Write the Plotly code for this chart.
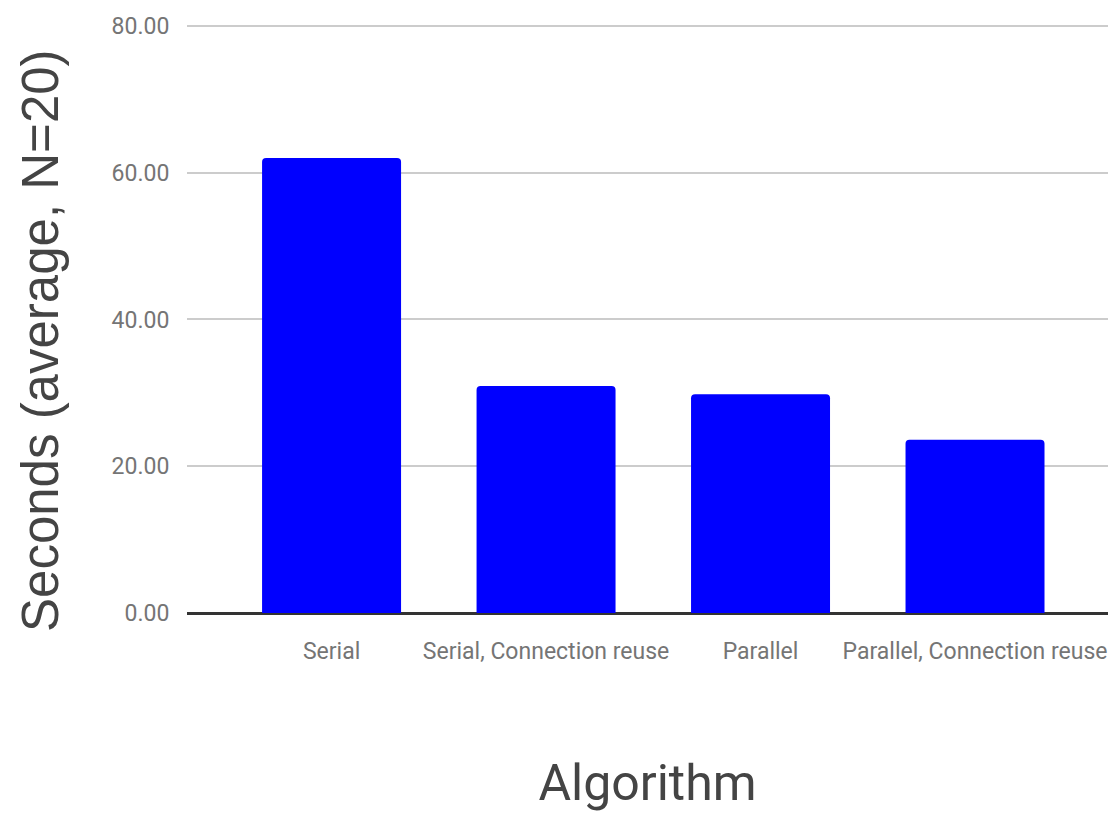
import plotly.graph_objects as go

# Average run time per algorithm (seconds, N=20)
algorithms = ["Serial", "Serial, Connection reuse", "Parallel", "Parallel, Connection reuse"]
seconds = [62.0, 30.95, 29.8, 23.6]

y_ticks = [0, 20, 40, 60, 80]
y_tick_labels = ["0.00", "20.00", "40.00", "60.00", "80.00"]

tick_font = dict(family="Roboto, sans-serif", size=23, color="#757575")

fig = go.Figure(
    go.Bar(
        x=algorithms,
        y=seconds,
        width=0.648,
        marker=dict(color="#0000ff", line=dict(width=0), cornerradius=4),
    )
)

fig.update_layout(
    width=1108,
    height=813,
    margin=dict(l=187, r=0, t=19, b=200, autoexpand=False),
    plot_bgcolor="white",
    paper_bgcolor="white",
    showlegend=False,
)

fig.update_xaxes(
    range=[-0.674, 3.62],
    automargin=False,
    tickfont=tick_font,
    ticks="outside",
    ticklen=17,
    tickcolor="rgba(0,0,0,0)",
    showgrid=False,
    showline=False,
    title=dict(
        text="Algorithm",
        font=dict(family="Roboto, sans-serif", size=50, color="#444444"),
        standoff=101,
    ),
)

fig.update_yaxes(
    range=[0, 80.95],
    automargin=False,
    tickvals=y_ticks,
    ticktext=y_tick_labels,
    tickfont=tick_font,
    ticks="outside",
    ticklen=12,
    tickcolor="rgba(0,0,0,0)",
    showgrid=True,
    gridcolor="#cccccc",
    gridwidth=2,
    zeroline=True,
    zerolinecolor="#333333",
    zerolinewidth=3,
    showline=False,
)

fig.add_annotation(
    text="Seconds (average, N=20)",
    textangle=-90,
    xref="paper",
    yref="paper",
    x=(40 - 187) / 921,
    y=(813 - 200 - 341) / 594,
    xanchor="center",
    yanchor="middle",
    showarrow=False,
    font=dict(family="Liberation Sans, Arial, sans-serif", size=51, color="#444444"),
)

fig.write_html("out.html")
